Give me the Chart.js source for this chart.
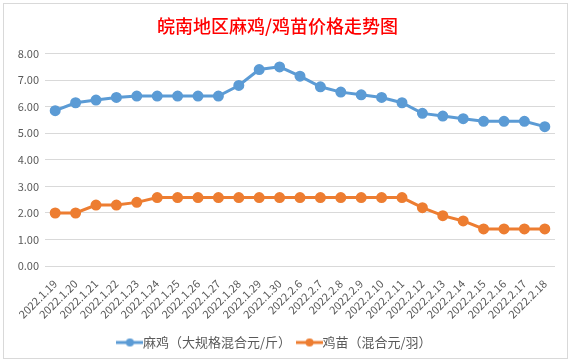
<!DOCTYPE html>
<html>
<head>
<meta charset="utf-8">
<script src="https://cdn.jsdelivr.net/npm/chart.js@4/dist/chart.umd.min.js"></script>
<style>
  html, body { margin: 0; padding: 0; background: #fff; }
  #wrap { position: relative; width: 572px; height: 364px; }
  #frame { position: absolute; left: 3px; top: 3px; width: 565px; height: 356px; border: 1px solid #d9d9d9; box-sizing: border-box; pointer-events: none; }
</style>
</head>
<body>
<div id="wrap">
  <canvas id="priceChart" width="572" height="364"></canvas>
  <div id="frame"></div>
</div>
<script>
// categories
const dates = ['2022.1.19', '2022.1.20', '2022.1.21', '2022.1.22', '2022.1.23', '2022.1.24', '2022.1.25',
  '2022.1.26', '2022.1.27', '2022.1.28', '2022.1.29', '2022.1.30', '2022.2.6', '2022.2.7', '2022.2.8',
  '2022.2.9', '2022.2.10', '2022.2.11', '2022.2.12', '2022.2.13', '2022.2.14', '2022.2.15', '2022.2.16',
  '2022.2.17', '2022.2.18'];

// 麻鸡 (元/斤)
const chickenPrice = [5.85, 6.15, 6.25, 6.35, 6.4, 6.4, 6.4, 6.4, 6.4, 6.8, 7.4, 7.5, 7.15, 6.75, 6.55,
  6.45, 6.35, 6.15, 5.75, 5.65, 5.55, 5.45, 5.45, 5.45, 5.25];

// 鸡苗 (元/羽)
const chickPrice = [2.0, 2.0, 2.3, 2.3, 2.4, 2.58, 2.58, 2.58, 2.58, 2.58, 2.58, 2.58, 2.58, 2.58, 2.58,
  2.58, 2.58, 2.58, 2.2, 1.9, 1.7, 1.4, 1.4, 1.4, 1.4];

const seriesNames = ['麻鸡（大规格混合元/斤）', '鸡苗（混合元/羽）'];
const seriesColors = ['#5B9BD5', '#ED7D31'];

const yTicks = [0, 1, 2, 3, 4, 5, 6, 7, 8];

const fontFamily = '"Noto Sans CJK SC", "Liberation Sans", sans-serif';

// little line+dot icon for the legend
function legendIcon(color) {
    const c = document.createElement('canvas');
    c.width = 27;
    c.height = 10;
    const g = c.getContext('2d');
    g.strokeStyle = color;
    g.lineWidth = 3;
    g.beginPath();
    g.moveTo(0, 5);
    g.lineTo(27, 5);
    g.stroke();
    g.fillStyle = color;
    g.beginPath();
    g.arc(13.5, 5, 4, 0, Math.PI * 2);
    g.fill();
    return c;
}

const ctx = document.getElementById('priceChart').getContext('2d');

new Chart(ctx, {
    type: 'line',
    data: {
        labels: dates,
        datasets: [chickenPrice, chickPrice].map((values, i) => ({
            label: seriesNames[i],
            data: values,
            borderColor: seriesColors[i],
            backgroundColor: seriesColors[i],
            borderWidth: 3,
            pointRadius: 4,
            pointHoverRadius: 4,
            tension: 0,
            fill: false,
            pointStyle: 'circle'
        }))
    },
    options: {
        responsive: false,
        animation: false,
        layout: {
            padding: { left: 0, right: 17, top: 11, bottom: 5 }
        },
        plugins: {
            title: {
                display: true,
                text: '皖南地区麻鸡/鸡苗价格走势图',
                color: '#ff0000',
                font: { family: fontFamily, size: 18, weight: '500' },
                padding: { top: 4, bottom: 17 }
            },
            legend: {
                position: 'bottom',
                labels: {
                    usePointStyle: true,
                    color: '#595959',
                    font: { family: fontFamily, size: 13 },
                    boxWidth: 27,
                    padding: 12,
                    generateLabels: (chart) => chart.data.datasets.map((ds, i) => ({
                        text: ds.label,
                        fillStyle: ds.borderColor,
                        strokeStyle: ds.borderColor,
                        fontColor: '#595959',
                        pointStyle: legendIcon(ds.borderColor),
                        lineWidth: 0,
                        datasetIndex: i
                    }))
                }
            },
            tooltip: { enabled: false }
        },
        scales: {
            x: {
                offset: true,
                grid: { display: false },
                border: { display: false },
                ticks: {
                    color: '#595959',
                    font: { family: fontFamily, size: 11 },
                    minRotation: 45,
                    maxRotation: 45,
                    autoSkip: false
                }
            },
            y: {
                min: 0,
                max: 8,
                afterFit: (scale) => { scale.width = 45; },
                afterBuildTicks: (scale) => { scale.ticks = yTicks.map(v => ({ value: v })); },
                grid: { color: '#d9d9d9', drawTicks: false },
                border: { display: false },
                ticks: {
                    color: '#595959',
                    font: { family: fontFamily, size: 11 },
                    padding: 6,
                    callback: (v) => v.toFixed(2)
                }
            }
        }
    }
});
</script>
</body>
</html>
